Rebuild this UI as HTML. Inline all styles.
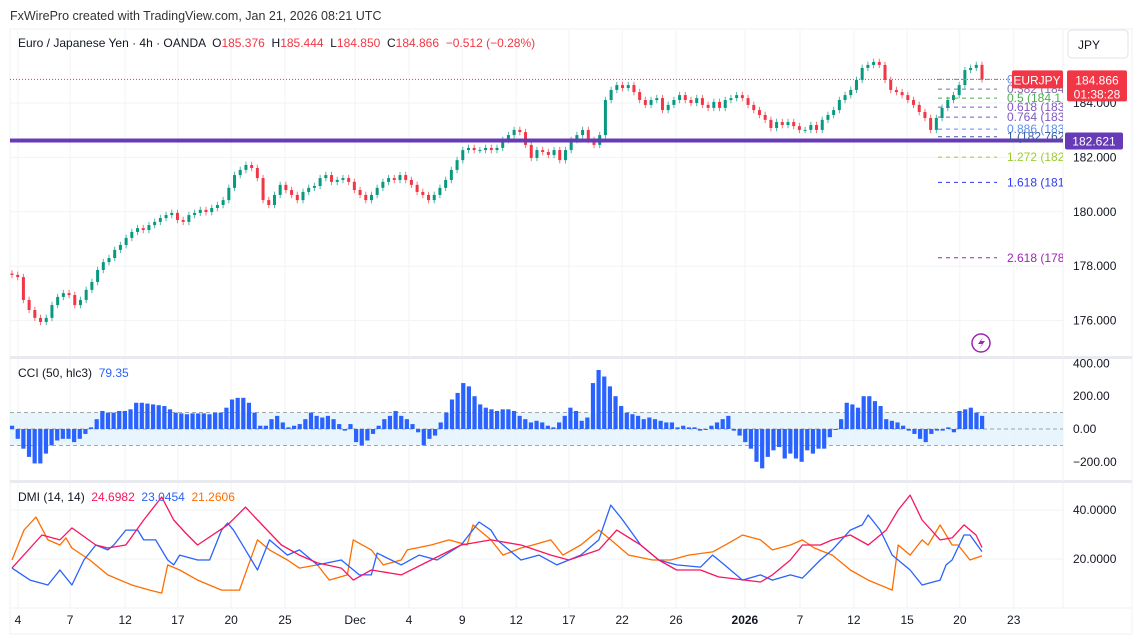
<!DOCTYPE html>
<html><head><meta charset="utf-8"><style>
html,body{margin:0;padding:0;background:#fff;width:1136px;height:640px;overflow:hidden}
svg{display:block;font-family:"Liberation Sans",sans-serif}
</style></head><body>
<svg id="c" width="1136" height="640" viewBox="0 0 1136 640">
<text x="10" y="20" font-size="12.5" fill="#333">FxWirePro created with TradingView.com, Jan 21, 2026 08:21 UTC</text>
<rect x="10" y="29" width="1122" height="605" fill="none" stroke="#eef0f3"/>
<g id="grid"></g>
<g id="cciPanel"></g>
<g id="dmiPanel"></g>
<g id="main"></g>
<g id="overlay"></g>
</svg>
<script>
const closes=[177.68,177.6,176.76,176.39,176.1,175.95,176.1,176.57,176.87,177.01,176.94,176.57,176.76,177.13,177.42,177.86,178.15,178.3,178.6,178.78,179.04,179.26,179.4,179.33,179.51,179.63,179.77,179.88,179.96,179.7,179.63,179.88,179.96,180.07,179.99,180.14,180.25,180.43,180.88,181.35,181.54,181.72,181.61,181.24,180.43,180.25,180.62,180.99,180.8,180.62,180.43,180.73,180.88,180.95,181.24,181.35,181.1,181.17,181.24,181.1,180.8,180.62,180.43,180.62,180.88,181.1,181.24,181.17,181.35,181.17,180.99,180.73,180.62,180.43,180.62,180.88,181.17,181.54,181.9,182.27,182.35,182.27,182.27,182.35,182.27,182.35,182.64,182.82,183.01,182.93,182.46,181.98,182.27,182.2,182.09,182.27,181.9,182.27,182.64,182.82,183.01,182.64,182.46,182.82,184.11,184.48,184.66,184.55,184.66,184.4,184.11,183.93,184.11,184.18,183.74,183.93,184.11,184.29,184.11,184.0,184.18,183.93,183.82,184.04,183.82,184.11,184.18,184.29,184.18,183.93,183.74,183.56,183.38,183.08,183.3,183.19,183.3,183.15,183.01,183.01,183.19,183.01,183.38,183.56,183.74,184.11,184.29,184.48,184.85,185.29,185.4,185.51,185.4,184.85,184.48,184.4,184.29,184.11,183.93,183.67,183.45,183.01,183.45,183.82,184.11,184.29,184.66,185.21,185.29,185.4,184.87];
const cci=[20,-60,-120,-170,-210,-210,-150,-100,-70,-60,-60,-80,-60,-30,10,60,110,100,100,110,110,120,160,160,155,150,145,140,120,100,95,90,95,95,95,90,100,100,130,180,190,190,160,100,20,20,60,80,40,10,20,30,60,100,80,70,80,60,30,-10,30,-80,-100,-70,-30,20,60,80,110,80,60,30,-20,-100,-60,-40,40,100,180,220,280,260,200,150,130,120,110,120,120,110,80,60,40,50,40,20,10,40,80,130,110,50,70,280,360,320,260,200,140,100,90,80,60,70,60,50,40,40,10,20,10,10,-10,0,20,40,60,80,-10,-40,-80,-120,-200,-240,-170,-130,-110,-180,-150,-180,-200,-130,-150,-120,-120,-50,0,60,160,150,130,200,200,170,140,60,50,40,20,-10,-30,-60,-80,-30,-10,-10,10,-20,110,120,130,100,80];
const dmiRedIdx=[0,5,8,10,14,16,19,22,25,27,29,31,36,39,41,45,48,51,55,57,60,65,70,75,80,85,90,93,98,101,105,108,111,115,118,125,127,130,132,135,137,140,143,146,148,150,152,155,157,159,161,162];
const dmiRed=[16.3,29.8,27.8,32.7,25.7,24.5,25.7,35.9,45.3,35.9,30.6,25.7,33.9,41.2,35.9,25.7,21.6,18.4,16.3,11.4,15.5,13.5,19.6,25.7,27.8,25.7,21.6,19.6,23.7,31.8,25.7,19.6,15.5,15.5,12.7,10.6,13.5,19.6,25.7,25.7,27.8,29.8,25.7,31.8,40,46.1,35.9,27.8,28.6,33.9,29.8,24.7];
const dmiBlueIdx=[0,3,6,8,10,12,14,16,17,19,21,22,24,26,27,28,31,33,35,36,37,39,41,43,46,48,51,55,58,60,61,65,68,71,75,78,80,81,85,88,91,95,98,100,102,105,108,111,115,117,119,122,125,127,130,132,135,137,140,142,143,145,147,150,152,155,156,157,159,160,162];
const dmiBlue=[16.3,11.4,9.4,15.5,9.4,19.6,25.7,23.7,25.7,31.8,31.8,27.8,27.8,19.6,17.6,21.6,19.6,19.6,31.8,34.7,31.8,23.7,15.5,27.8,21.6,23.7,17.6,19.6,13.5,13.5,22.4,17.6,21.6,19.6,25.7,35.1,31.8,27.8,19.6,21.6,17.6,21.6,27.8,42,35.9,25.7,19.6,17.6,16.7,21.6,17.6,11.4,13.5,11.4,13.5,12.2,19.6,23.7,31.8,33.9,38,31.8,21.6,15.5,9.4,11.4,17.6,19.6,29.8,29.8,23.0];
const dmiOrangeIdx=[0,2,4,6,8,9,10,13,16,20,23,25,26,28,31,35,38,41,43,46,48,51,53,56,57,60,62,65,66,70,73,76,77,80,82,85,87,90,92,95,98,100,103,107,110,113,117,120,122,125,127,130,132,134,137,140,143,147,148,150,152,153,155,157,158,160,162];
const dmiOrange=[19.6,31.8,37.1,27.8,25.7,28.6,24.5,19.6,13.5,9.4,7.3,6.1,17.6,15.5,11.4,7.3,7.3,27.8,23.7,19.6,16.3,17.6,11.4,13.5,27.8,23.7,17.6,19.6,23.7,25.7,27.8,25.7,33.9,27.8,21.6,24.5,25.7,27.8,21.6,25.7,31.8,27.8,21.6,19.6,19.6,21.6,22.9,26.9,29.8,27.8,23.7,25.7,27.8,24.5,21.6,15.5,11.4,7.3,25.7,21.6,27.8,25.7,33.9,25.7,25.7,19.6,21.3];
const dateLabels=["4","7","12","17","20","25","Dec","4","9","12","17","22","26","2026","7","12","15","20","23"];
const dateIdx=[1,9.7,18.9,27.7,36.6,45.6,57.3,66.3,75.2,84.2,93,101.9,110.9,122.4,131.6,140.6,149.5,158.3,167.3];
const priceTicks=[184,182,180,178,176];
const cciTicks=[400,200,0,-200];
const dmiTicks=[40,20];
const fibLevels=["0","0.382","0.5","0.618","0.764","0.886","1","1.272","1.618","2.618"];
const fibPrices=[184.87,184.51,184.18,183.85,183.48,183.04,182.76,182.01,181.08,178.31];
const fibText=["0.","0.382 (184.","0.5 (184.1","0.618 (183.","0.764 (183.","0.886 (183.","1 (182.762","1.272 (182.","1.618 (181.","2.618 (178."];
const fibColors=["#5b8def","#7e6fb0","#4caf50","#7e57c2","#7e57c2","#5b8def","#3b5c9e","#9ccc33","#2b3bef","#9c27b0"];
const hLinePrice=182.621;

const NS="http://www.w3.org/2000/svg";
function el(tag,attrs,parent,txt){const e=document.createElementNS(NS,tag);for(const k in attrs)e.setAttribute(k,attrs[k]);if(txt!==undefined)e.textContent=txt;parent.appendChild(e);return e;}
const X0=12,XL=982,PR=1063;
const step=(XL-X0)/(closes.length-1);
const xi=i=>X0+i*step;
const xd=i=>X0+i*(XL-X0)/162;
const yP=p=>103+(184-p)*27.2;
const yC=v=>429-v*0.164;
const yD=v=>559-(v-20)*2.45;
const G=document.getElementById('grid'),M=document.getElementById('main'),C=document.getElementById('cciPanel'),D=document.getElementById('dmiPanel'),O=document.getElementById('overlay');

dateLabels.forEach((t,k)=>{const x=xd(dateIdx[k]);
 let g=el('line',{x1:x,y1:30,x2:x,y2:608,stroke:'#f2f3f5'},G);
 
 const bold=(t==='2026');
 let lb=el('text',{x:x,y:624,'font-size':12,'text-anchor':'middle',fill:'#131722','font-weight':bold?'bold':'normal'},G,t);
 });
priceTicks.forEach(p=>{const y=yP(p);
 let g=el('line',{x1:10,y1:y,x2:PR,y2:y,stroke:'#f2f3f5'},G);
 let t=el('text',{x:1073,y:y+4,'font-size':12,fill:'#131722'},G,p.toFixed(3));});
[357,481].forEach(y=>{let s=el('rect',{x:10,y:y-1,width:1122,height:3,fill:'#e8eaef'},G);});
el('line',{x1:10,y1:608,x2:1132,y2:608,stroke:'#eef0f3'},G);
el('line',{x1:PR,y1:30,x2:PR,y2:608,stroke:'#eef0f3'},G);

let lg=el('text',{x:18,y:47,'font-size':12,fill:'#131722'},M);

lg.innerHTML='Euro / Japanese Yen · 4h · OANDA  O<tspan fill="#f23645">185.376</tspan>  H<tspan fill="#f23645">185.444</tspan>  L<tspan fill="#f23645">184.850</tspan>  C<tspan fill="#f23645">184.866</tspan>  <tspan fill="#f23645">−0.512 (−0.28%)</tspan>';
lg.style.whiteSpace='pre';
let jb=el('rect',{x:1068,y:30,width:60,height:28,rx:4,fill:'#fff',stroke:'#e0e3eb'},M);

el('text',{x:1078,y:49,'font-size':12,fill:'#131722'},M,'JPY');

let lp=el('line',{x1:10,y1:yP(closes[closes.length-1]),x2:PR,y2:yP(closes[closes.length-1]),stroke:'#f23645','stroke-dasharray':'1,2','stroke-width':1},M);


for(let i=0;i<closes.length;i++){const c=closes[i],o=i?closes[i-1]:c+0.05;const up=c>=o;const col=up?'#089981':'#f23645';
 const hi=Math.max(o,c)+0.12,lo=Math.min(o,c)-0.12;const x=xi(i);
 let w=el('line',{x1:x,y1:yP(hi),x2:x,y2:yP(lo),stroke:col,'stroke-width':1,opacity:0.7},M);
 
 const yt=yP(Math.max(o,c)),yb=yP(Math.min(o,c));
 let b=el('rect',{x:x-1.5,y:yt,width:3,height:Math.max(1,yb-yt),fill:col},M);
 }

const hy=yP(hLinePrice);
let hl=el('rect',{x:10,y:hy-2,width:PR-10,height:4,fill:'#673ab7'},M);

let hlb=el('rect',{x:1065,y:hy-8,width:58,height:17,rx:2,fill:'#673ab7'},M);

el('text',{x:1094,y:hy+5,'font-size':12,fill:'#fff','text-anchor':'middle'},M,hLinePrice.toFixed(3));

const clip=el('clipPath',{id:'fc'},M);el('rect',{x:0,y:0,width:PR,height:640},clip);
const FG=el('g',{'clip-path':'url(#fc)'},M);
fibLevels.forEach((lv,k)=>{const y=yP(fibPrices[k]);
 let f=el('line',{x1:938,y1:y,x2:997,y2:y,stroke:fibColors[k],'stroke-dasharray':'4,4'},FG);
 
 let t=el('text',{x:1007,y:y+4,'font-size':12,fill:fibColors[k]},FG,fibText[k]);
 });

const ly=yP(closes[closes.length-1]);
let sl=el('rect',{x:1012,y:ly-9,width:51,height:18,rx:2,fill:'#f23645'},M);

el('text',{x:1037,y:ly+5,'font-size':12,fill:'#fff','text-anchor':'middle'},M,'EURJPY');
let pl=el('rect',{x:1067,y:ly-9,width:60,height:31,rx:2,fill:'#f23645'},M);

el('text',{x:1097,y:ly+5,'font-size':12,fill:'#fff','text-anchor':'middle'},M,'184.866');
el('text',{x:1097,y:ly+19,'font-size':12,fill:'#fff','text-anchor':'middle'},M,'01:38:28');
let li=el('circle',{cx:981,cy:343,r:9,fill:'none',stroke:'#9c27b0','stroke-width':1.5},M);

el('path',{d:'M983 337 L978 344 L982 344 L979 349 L985 341 L981 341 Z',fill:'#9c27b0'},M);

let cb=el('rect',{x:10,y:yC(100),width:PR-10,height:yC(-100)-yC(100),fill:'#e3f2fd',opacity:0.8},C);

[100,0,-100].forEach(v=>{let l=el('line',{x1:10,y1:yC(v),x2:PR,y2:yC(v),stroke:'#888','stroke-dasharray':'4,3','stroke-width':0.8},C);});
const cstep=(XL-X0)/(cci.length-1);
cci.forEach((v,i)=>{const x=X0+i*cstep;const y0=yC(0),y1=yC(v);
 let b=el('rect',{x:x-2,y:Math.min(y0,y1),width:4.2,height:Math.max(1,Math.abs(y1-y0)),fill:'#2962ff'},C);
 });
cciTicks.forEach(v=>{let t=el('text',{x:1073,y:yC(v)+4,'font-size':12,fill:'#131722'},C,(v<0?'−':'')+Math.abs(v).toFixed(2));});
let ct=el('text',{x:18,y:377,'font-size':12,fill:'#131722'},C);ct.innerHTML='CCI (50, hlc3)  <tspan fill="#2962ff">79.35</tspan>';ct.style.whiteSpace='pre';


dmiTicks.forEach(v=>{el('line',{x1:10,y1:yD(v),x2:PR,y2:yD(v),stroke:'#f2f3f5'},D);
 let t=el('text',{x:1073,y:yD(v)+4,'font-size':12,fill:'#131722'},D,v.toFixed(4));});
function line(idx,vals,col,name){const d=vals.map((v,k)=>(k?'L':'M')+xd(idx[k]).toFixed(1)+' '+yD(v).toFixed(1)).join(' ');
 let p=el('path',{d:d,fill:'none',stroke:col,'stroke-width':1.3,'stroke-linejoin':'round'},D);
 }
line(dmiOrangeIdx,dmiOrange,'#ff6d00','adx-line');
line(dmiBlueIdx,dmiBlue,'#2962ff','di-minus-line');
line(dmiRedIdx,dmiRed,'#f7165e','di-plus-line');
let dt=el('text',{x:18,y:501,'font-size':12,fill:'#131722'},D);dt.innerHTML='DMI (14, 14)  <tspan fill="#f7165e">24.6982</tspan>  <tspan fill="#2962ff">23.0454</tspan>  <tspan fill="#ff6d00">21.2606</tspan>';dt.style.whiteSpace='pre';

</script>
</body></html>
